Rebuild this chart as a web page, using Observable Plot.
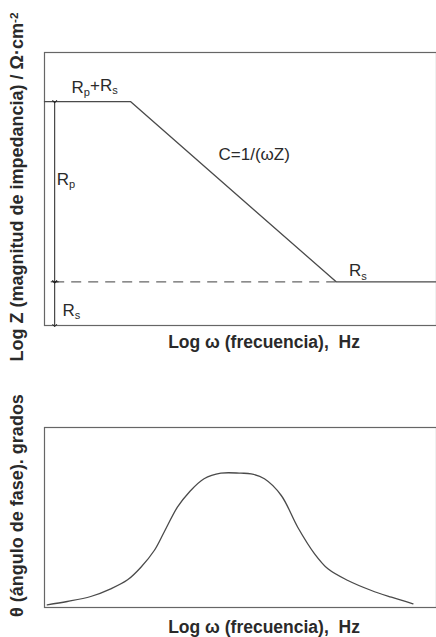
<!DOCTYPE html>
<html>
<head>
<meta charset="utf-8">
<script src="https://cdn.jsdelivr.net/npm/d3@7"></script>
<script src="https://cdn.jsdelivr.net/npm/@observablehq/plot@0.6"></script>
<style>
  html, body { margin: 0; padding: 0; background: #fff; }
  svg { display: block; }
</style>
</head>
<body>
<div id="chart"></div>
<script>
// ---- Data (arbitrary log units) ----
const magX = [0, 2.2, 7.44, 10];          // log ω breakpoints
const magY = [8.2, 8.2, 1.6, 1.6];        // log |Z|
const Rs = 1.6;
const RpRs = 8.2;
const arrowX = 0.26;

const labelText = ["R_{p}+R_{s}", "R_{p}", "C=1/(ωZ)", "R_{s}", "R_{s}"];
const labelX    = [1.28, 0.31, 5.35, 7.77, 0.46];
const labelY    = [8.72, 5.35, 6.26, 2.0, 0.55];
const labelAnchor = ["middle", "start", "middle", "start", "start"];

const phaseX = [0.07, 0.58, 1.18, 1.69, 2.12, 2.46, 2.80, 3.05, 3.39, 3.69, 4.07, 4.50, 5.01, 5.27, 5.61, 6.04, 6.46, 6.89, 7.23, 7.74, 8.34, 8.85, 9.40];
const phaseY = [1.35, 3.0, 5.5, 9.35, 13.85, 20.15, 28.5, 37.65, 50.15, 57.65, 64.35, 67.15, 67.15, 66.85, 64.35, 56.0, 40.15, 26.85, 19.35, 13.5, 8.5, 5.15, 1.85];

const xTitle = "Log ω (frecuencia),  Hz";
const xTitlePos = 5.6;                     // centre of the x title along log ω
const yTitleTop = "Log Z (magnitud de impedancia) / Ω·cm^{-2}";
const yTitleBottom = "θ (ángulo de fase). grados";

// ---- Build tables ----
const magData = magX.map((x, i) => ({x, y: magY[i]}));
const labels = labelText.map((t, i) => ({t, x: labelX[i], y: labelY[i], a: labelAnchor[i]}));
const phaseData = phaseX.map((x, i) => ({x, y: phaseY[i]}));

const lineColor = "#4a4a4a";
const textColor = "#2a2a2a";
const font = "'Liberation Sans', Arial, Helvetica, sans-serif";
const titleSize = 17.5;
const yTitleSize = 18;

const topChart = Plot.plot({
  width: 436, height: 370,
  marginLeft: 44, marginRight: 0, marginTop: 52, marginBottom: 45,
  style: {fontFamily: font, background: "#fff", overflow: "visible"},
  x: {domain: [0, 10], axis: null},
  y: {domain: [0, 10], axis: null},
  marks: [
    Plot.frame({stroke: "#666", strokeWidth: 1.2}),
    Plot.ruleY([Rs], {x1: arrowX, x2: magX[2], stroke: "#666", strokeWidth: 1.2, strokeDasharray: "10,7"}),
    Plot.line(magData, {x: "x", y: "y", stroke: lineColor, strokeWidth: 1.3}),
    Plot.link([{y1: RpRs, y2: Rs}], {x1: arrowX, x2: arrowX, y1: "y1", y2: "y2", stroke: "#222", strokeWidth: 1, markerStart: "arrow", markerEnd: "arrow"}),
    Plot.link([{y1: Rs, y2: 0}], {x1: arrowX, x2: arrowX, y1: "y1", y2: "y2", stroke: "#222", strokeWidth: 1, markerStart: "arrow", markerEnd: "arrow"}),
    Plot.link([Rs], {x1: arrowX - 0.1, x2: arrowX + 0.1, y1: d => d, y2: d => d, stroke: "#222", strokeWidth: 1}),
    Plot.text(labels.filter(d => d.a === "middle"), {x: "x", y: "y", text: "t", textAnchor: "middle", fontSize: 17, fill: textColor}),
    Plot.text(labels.filter(d => d.a === "start"), {x: "x", y: "y", text: "t", textAnchor: "start", fontSize: 17, fill: textColor}),
    Plot.text([xTitle], {x: xTitlePos, frameAnchor: "bottom", lineAnchor: "middle", dy: 17, text: d => d, textAnchor: "middle", fontSize: titleSize, fontWeight: "bold", fill: textColor}),
    Plot.text([yTitleTop], {frameAnchor: "left", dx: -27, dy: -2, rotate: -90, text: d => d, textAnchor: "middle", fontSize: yTitleSize, fontWeight: "bold", fill: textColor})
  ]
});

const bottomChart = Plot.plot({
  width: 436, height: 267,
  marginLeft: 44, marginRight: 0, marginTop: 57, marginBottom: 30,
  style: {fontFamily: font, background: "#fff", overflow: "visible"},
  x: {domain: [0, 10], axis: null},
  y: {domain: [0, 90], axis: null},
  marks: [
    Plot.frame({stroke: "#666", strokeWidth: 1.2}),
    Plot.line(phaseData, {x: "x", y: "y", curve: "catmull-rom", stroke: lineColor, strokeWidth: 1.3}),
    Plot.text([xTitle], {x: xTitlePos, frameAnchor: "bottom", lineAnchor: "middle", dy: 20, text: d => d, textAnchor: "middle", fontSize: titleSize, fontWeight: "bold", fill: textColor}),
    Plot.text([yTitleBottom], {frameAnchor: "left", dx: -27, dy: -12, rotate: -90, text: d => d, textAnchor: "middle", fontSize: yTitleSize, fontWeight: "bold", fill: textColor})
  ]
});

// Convert _{..} and ^{..} markup into sub/superscript tspans (real text kept)
function richify(svg) {
  svg.querySelectorAll("text").forEach(t => {
    const s = t.textContent;
    if (!/[_^]\{/.test(s)) return;
    while (t.firstChild) t.removeChild(t.firstChild);
    const re = /([_^])\{([^}]*)\}/g;
    let last = 0, m;
    const ns = "http://www.w3.org/2000/svg";
    const add = (txt, dy, size) => {
      const sp = document.createElementNS(ns, "tspan");
      sp.textContent = txt;
      if (dy) sp.setAttribute("dy", dy);
      if (size) sp.setAttribute("font-size", size);
      t.appendChild(sp);
    };
    let shifted = null;
    while ((m = re.exec(s))) {
      const before = s.slice(last, m.index);
      if (before) { add(before, shifted, null); shifted = null; }
      if (m[1] === "_") { add(m[2], "0.3em", "65%"); shifted = "-0.3em"; }
      else { add(m[2], "-0.45em", "65%"); shifted = "0.45em"; }
      last = re.lastIndex;
    }
    const rest = s.slice(last);
    if (rest) add(rest, shifted, null);
  });
}
richify(topChart);
richify(bottomChart);

document.getElementById("chart").append(topChart, bottomChart);
</script>
</body>
</html>
